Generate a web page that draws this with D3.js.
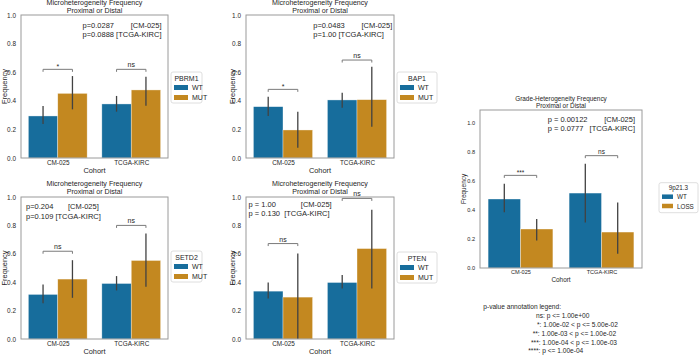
<!DOCTYPE html>
<html><head><meta charset="utf-8">
<script src="https://cdn.jsdelivr.net/npm/d3@7"></script>
<style>
body{margin:0;background:#fff;}
svg text{font-family:"Liberation Sans",Arial,sans-serif;fill:#262626;white-space:pre;}
</style></head>
<body><svg id="c" width="700" height="356"></svg>
<script>
// ---- data ----
const cohorts = ["CM-025", "TCGA-KIRC"];
const yTicks = [0, 0.2, 0.4, 0.6, 0.8, 1.0];
const yTickLabels = ["0.0", "0.2", "0.4", "0.6", "0.8", "1.0"];
const mutGroups = ["WT", "MUT"];
const lossGroups = ["WT", "LOSS"];
// [mean, ciLow, ciHigh] per cohort
const pbrm1WT  = [[0.294, 0.238, 0.364], [0.378, 0.324, 0.434]];
const pbrm1MUT = [[0.452, 0.340, 0.573], [0.476, 0.366, 0.569]];
const bap1WT   = [[0.359, 0.294, 0.429], [0.406, 0.352, 0.457]];
const bap1MUT  = [[0.196, 0.072, 0.324], [0.408, 0.219, 0.638]];
const setd2WT  = [[0.314, 0.251, 0.384], [0.391, 0.342, 0.443]];
const setd2MUT = [[0.422, 0.290, 0.555], [0.553, 0.368, 0.743]];
const ptenWT   = [[0.337, 0.286, 0.398], [0.398, 0.356, 0.450]];
const ptenMUT  = [[0.295, 0.000, 0.602], [0.637, 0.356, 0.910]];
const p9WT     = [[0.476, 0.384, 0.581], [0.517, 0.314, 0.719]];
const p9LOSS   = [[0.269, 0.190, 0.338], [0.248, 0.099, 0.452]];
// significance brackets: [label, height]
const pbrm1Sig = [["*", 0.62], ["ns", 0.62]];
const bap1Sig  = [["*", 0.48], ["ns", 0.685]];
const setd2Sig = [["ns", 0.618], ["ns", 0.80]];
const ptenSig  = [["ns", 0.672], ["ns", 0.99]];
const p9Sig    = [["***", 0.639], ["ns", 0.775]];
// stats text
const pbrm1Stats = ["p=0.0287        [CM-025]", "p=0.0888 [TCGA-KIRC]"];
const bap1Stats  = ["p=0.0483        [CM-025]", "p=1.00 [TCGA-KIRC]"];
const setd2Stats = ["p=0.204       [CM-025]", "p=0.109 [TCGA-KIRC]"];
const ptenStats  = ["p = 1.00            [CM-025]", "p = 0.130  [TCGA-KIRC]"];
const p9Stats    = ["p = 0.00122        [CM-025]", "p = 0.0777   [TCGA-KIRC]"];
const microTitle = ["Microheterogeneity Frequency", "Proximal or Distal"];
const gradeTitle = ["Grade-Heterogeneity Frequency", "Proximal or Distal"];
const pLegendLines = [
  "p-value annotation legend:",
  "ns: p <= 1.00e+00",
  "*: 1.00e-02 < p <= 5.00e-02",
  "**: 1.00e-03 < p <= 1.00e-02",
  "***: 1.00e-04 < p <= 1.00e-03",
  "****: p <= 1.00e-04"
];

// ---- drawing ----
const svg = d3.select("#c");
const colA = "#176d9c", colB = "#c38820";

function panel(o) {
  const g = svg.append("g");
  const x = d3.scaleLinear().domain([-0.5, 1.5]).range([o.x0, o.x1]);
  const y = d3.scaleLinear().domain([0, o.ymax]).range([o.y1, o.y0]);
  const bw = x(0.4) - x(0);
  const series = [[o.gA, o.dA, colA, -0.2], [o.gB, o.dB, colB, 0.2]];
  series.forEach(([name, d, col, off]) => {
    g.selectAll(null).data(d).enter().append("rect")
      .attr("x", (v, i) => x(i + off) - bw / 2)
      .attr("width", bw)
      .attr("y", v => y(v[0]))
      .attr("height", v => y(0) - y(v[0]))
      .attr("fill", col).attr("stroke", "#ffffff").attr("stroke-opacity", 0.6).attr("stroke-width", 0.6);
  });
  series.forEach(([name, d, col, off]) => {
    g.selectAll(null).data(d).enter().append("line")
      .attr("x1", (v, i) => x(i + off)).attr("x2", (v, i) => x(i + off))
      .attr("y1", v => y(v[1])).attr("y2", v => y(v[2]))
      .attr("stroke", "#424242").attr("stroke-width", 1.3);
  });
  g.append("rect").attr("x", o.x0).attr("y", o.y0).attr("width", o.x1 - o.x0).attr("height", o.y1 - o.y0)
    .attr("fill", "none").attr("stroke", "#9a9a9a").attr("stroke-width", 1);
  const ya = d3.axisLeft(y).tickValues(yTicks).tickFormat((d, i) => yTickLabels[i]).tickSize(0).tickPadding(o.tp);
  const yg = g.append("g").attr("transform", `translate(${o.x0},0)`).call(ya);
  yg.select(".domain").remove();
  yg.selectAll("text").attr("font-size", o.tickFs).style("fill", "#262626");
  const xa = d3.axisBottom(x).tickValues([0, 1]).tickFormat((d, i) => cohorts[i]).tickSize(0).tickPadding(2.5);
  const xg = g.append("g").attr("transform", `translate(0,${o.y1})`).call(xa);
  xg.select(".domain").remove();
  xg.selectAll("text").attr("font-size", o.tickFs).style("fill", "#262626");
  g.append("text").attr("x", (o.x0 + o.x1) / 2).attr("y", o.y1 + o.xlabOff).attr("text-anchor", "middle")
    .attr("font-size", o.labFs).text("Cohort");
  g.append("text").attr("transform", `translate(${o.x0 - o.ylabOff},${(o.y0 + o.y1) / 2}) rotate(-90)`)
    .attr("text-anchor", "middle").attr("dominant-baseline", "central").attr("font-size", o.labFs).text("Frequency");
  o.title.forEach((t, i) => {
    g.append("text").attr("x", (o.x0 + o.x1) / 2).attr("y", o.y0 + o.titleOff + i * o.titleGap)
      .attr("text-anchor", "middle").attr("dominant-baseline", "central").attr("font-size", o.titleFs).text(t);
  });
  o.stats.forEach((t, i) => {
    g.append("text").attr("x", o.sx).attr("y", o.sy + i * o.sGap).attr("dominant-baseline", "central")
      .attr("font-size", o.statFs).text(t);
  });
  o.sig.forEach(([lab, h], i) => {
    const xa1 = x(i - 0.2), xb1 = x(i + 0.2), yy = y(h);
    g.append("path").attr("d", `M${xa1},${yy + 2.5}L${xa1},${yy}L${xb1},${yy}L${xb1},${yy + 2.5}`)
      .attr("fill", "none").attr("stroke", "#7a7a7a").attr("stroke-width", 1);
    g.append("text").attr("x", (xa1 + xb1) / 2).attr("y", yy - (lab === "ns" ? 2 : 0.5))
      .attr("text-anchor", "middle").attr("font-size", o.sigFs).text(lab);
  });
  const L = o.leg;
  g.append("rect").attr("x", L.x).attr("y", L.y).attr("width", L.w).attr("height", L.h).attr("rx", 2)
    .attr("fill", "#fff").attr("stroke", "#d6d6d6").attr("stroke-width", 0.8);
  g.append("text").attr("x", L.x + L.w / 2).attr("y", L.y + L.t).attr("text-anchor", "middle")
    .attr("dominant-baseline", "central").attr("font-size", L.fs).text(o.legTitle);
  [[o.gA, colA], [o.gB, colB]].forEach(([n, c], i) => {
    g.append("rect").attr("x", L.x + 3).attr("y", L.y + L.r0 + i * L.rg - L.ph / 2).attr("width", L.pw).attr("height", L.ph).attr("fill", c);
    g.append("text").attr("x", L.x + 3 + L.pw + 4).attr("y", L.y + L.r0 + i * L.rg).attr("dominant-baseline", "central")
      .attr("font-size", L.fs).text(n);
  });
}

const common = {ymax: 1.0, tickFs: 6.4, labFs: 7.4, titleFs: 7.1, statFs: 7.5, sigFs: 7, tp: 5,
  xlabOff: 15, ylabOff: 17, titleOff: -12, titleGap: 7.8, sGap: 9.5,
  gA: "WT", gB: "MUT"};
const legBase = {w: 31, h: 31, t: 6, r0: 15.5, rg: 10, pw: 14, ph: 5, fs: 7};

panel(Object.assign({}, common, {x0: 21, x1: 168, y0: 15, y1: 158, dA: pbrm1WT, dB: pbrm1MUT,
  title: microTitle, stats: pbrm1Stats, sx: 82.5, sy: 25, sig: pbrm1Sig, legTitle: "PBRM1",
  leg: Object.assign({}, legBase, {x: 171, y: 72})}));
panel(Object.assign({}, common, {x0: 246, x1: 394, y0: 15, y1: 158, dA: bap1WT, dB: bap1MUT,
  title: microTitle, stats: bap1Stats, sx: 313.3, sy: 25, sig: bap1Sig, legTitle: "BAP1", ylabOff: 14,
  leg: Object.assign({}, legBase, {x: 397, y: 72, w: 40})}));
panel(Object.assign({}, common, {x0: 21, x1: 168, y0: 197, y1: 339, dA: setd2WT, dB: setd2MUT,
  title: microTitle, stats: setd2Stats, sx: 26, sy: 206.5, sig: setd2Sig, legTitle: "SETD2",
  titleOff: -13,
  leg: Object.assign({}, legBase, {x: 171, y: 251})}));
panel(Object.assign({}, common, {x0: 246, x1: 394, y0: 197, y1: 339, dA: ptenWT, dB: ptenMUT,
  title: microTitle, stats: ptenStats, sx: 248.5, sy: 204.3, sig: ptenSig, legTitle: "PTEN", ylabOff: 14,
  titleOff: -13,
  leg: Object.assign({}, legBase, {x: 397, y: 252, w: 40})}));
panel(Object.assign({}, common, {x0: 480, x1: 642, y0: 110, y1: 268, ymax: 1.09, dA: p9WT, dB: p9LOSS,
  gB: "LOSS", tickFs: 5.6, labFs: 6.4, titleFs: 6.4, statFs: 7.5, sigFs: 6.5, tp: 5, ylabOff: 17,
  titleOff: -12, titleGap: 7.2, xlabOff: 13.5,
  title: gradeTitle, stats: p9Stats, sx: 547.7, sy: 119.3, sGap: 9, sig: p9Sig, legTitle: "9p21.3",
  leg: {x: 659, y: 182.7, w: 39, h: 30, t: 5, r0: 14, rg: 9.3, pw: 11, ph: 4.5, fs: 6.3}}));

const plx = [483.3, 536, 537, 532.7, 531, 528.3];
const ply = [306.7, 315.3, 324, 333, 342, 350.5];
svg.selectAll(null).data(pLegendLines).enter().append("text")
  .attr("x", (d, i) => plx[i]).attr("y", (d, i) => ply[i]).attr("dominant-baseline", "central")
  .attr("font-size", 6.6).text(d => d);
</script></body></html>
